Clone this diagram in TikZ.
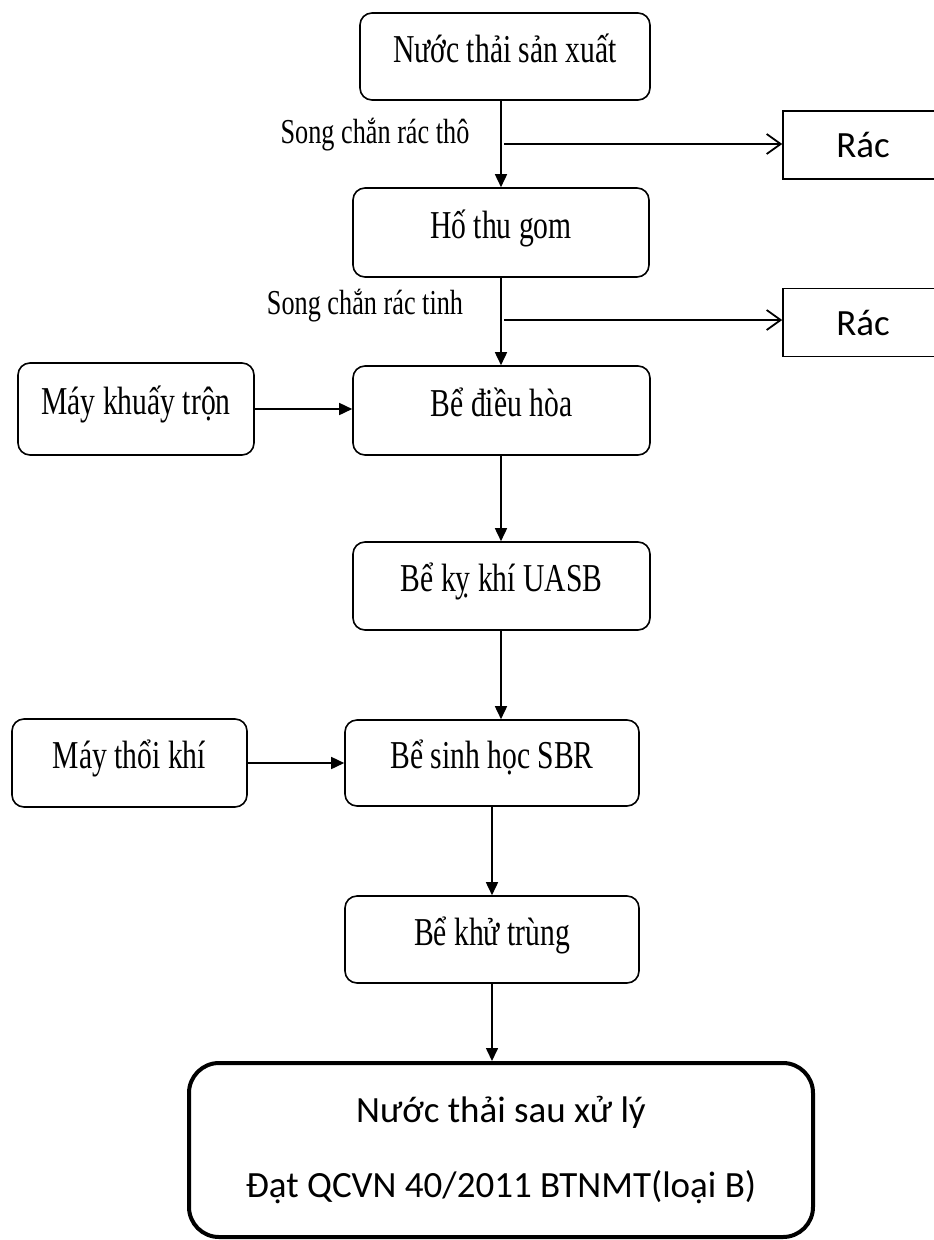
\documentclass[tikz,border=0pt]{standalone}
\usepackage{fontspec}
\usepackage{graphicx}
\setmainfont{Liberation Serif}
\newfontfamily\calibfont{Carlito}
\usetikzlibrary{arrows.meta}
\newcommand{\narrow}[1]{\scalebox{0.75}[1]{#1}}

\begin{document}
\begin{tikzpicture}[x=1pt, y=-1pt]
        \tikzstyle{stepbox}=[draw,line width=1.6pt,rounded corners=12pt,inner sep=0pt,font=\fontsize{39.5}{44}\selectfont,text height=17pt,text depth=6pt]
        \tikzstyle{wastebox}=[draw,line width=1.6pt,inner sep=0pt,minimum width=160pt,minimum height=68pt,font=\calibfont\fontsize{37}{40}\selectfont]
        \tikzstyle{endbox}=[draw,line width=4pt,rounded corners=30pt,inner sep=0pt,minimum width=624pt,minimum height=174pt,align=center,font=\calibfont\fontsize{37}{75}\selectfont]
        \tikzstyle{screen}=[inner sep=0pt,font=\fontsize{35}{40}\selectfont]
        \tikzstyle{flow}=[line width=1.6pt,-{Triangle[length=13pt,width=12pt]}]
        \tikzstyle{waste}=[line width=1.8pt,-{Straight Barb[length=14pt,width=20pt]}]

        \useasboundingbox (0,0) rectangle (934,1240);

        \node[stepbox,minimum width=290pt,minimum height=87pt] (P_1) at (505,56.5) {\narrow{Nước thải sản xuất}};
        \node[stepbox,minimum width=296pt,minimum height=89pt] (P_2) at (501,232.5) {\narrow{Hố thu gom}};
        \node[stepbox,minimum width=297pt,minimum height=89pt] (P_3) at (501.5,410.5) {\narrow{Bể điều hòa}};
        \node[stepbox,minimum width=297pt,minimum height=88pt] (P_4) at (501.5,586) {\narrow{Bể kỵ khí UASB}};
        \node[stepbox,minimum width=294pt,minimum height=86pt] (P_5) at (492,763) {\narrow{Bể sinh học SBR}};
        \node[stepbox,minimum width=294pt,minimum height=87pt] (P_6) at (492,939.5) {\narrow{Bể khử trùng}};
        \node[endbox] (P_7) at (501,1150) {Nước thải sau xử lý\\Đạt QCVN 40/2011 BTNMT(loại B)};

        \node[stepbox,minimum width=236pt,minimum height=92pt] (M_1) at (136,409) {\narrow{Máy khuấy trộn}};
        \node[stepbox,minimum width=235pt,minimum height=88pt] (M_2) at (129.5,763) {\narrow{Máy thổi khí}};

        \node[wastebox] (R_1) at (863,145) {Rác};
        \node[wastebox] (R_2) at (863,322.5) {Rác};

        \node[screen] (L_1) at (375,135) {\narrow{Song chắn rác thô}};
        \node[screen] (L_2) at (365,306) {\narrow{Song chắn rác tinh}};

        \coordinate (C_1) at (504,144);
        \coordinate (C_2) at (504,320);

        \draw[flow] (P_2.north |- P_1.south) -- (P_2.north);
        \draw[flow] (P_2.south) -- (P_2.south |- P_3.north);
        \draw[flow] (P_2.south |- P_3.south) -- (P_2.south |- P_4.north);
        \draw[flow] (P_2.south |- P_4.south) -- (P_2.south |- P_5.north);
        \draw[flow] (P_5.south) -- (P_6.north);
        \draw[flow] (P_6.south) -- (P_6.south |- P_7.north);
        \draw[flow] (M_1.east) -- (M_1.east -| P_3.west);
        \draw[flow] (M_2.east) -- (M_2.east -| P_5.west);
        \draw[waste] (C_1) -- (C_1 -| R_1.west);
        \draw[waste] (C_2) -- (C_2 -| R_2.west);
    \end{tikzpicture}
\end{document}
